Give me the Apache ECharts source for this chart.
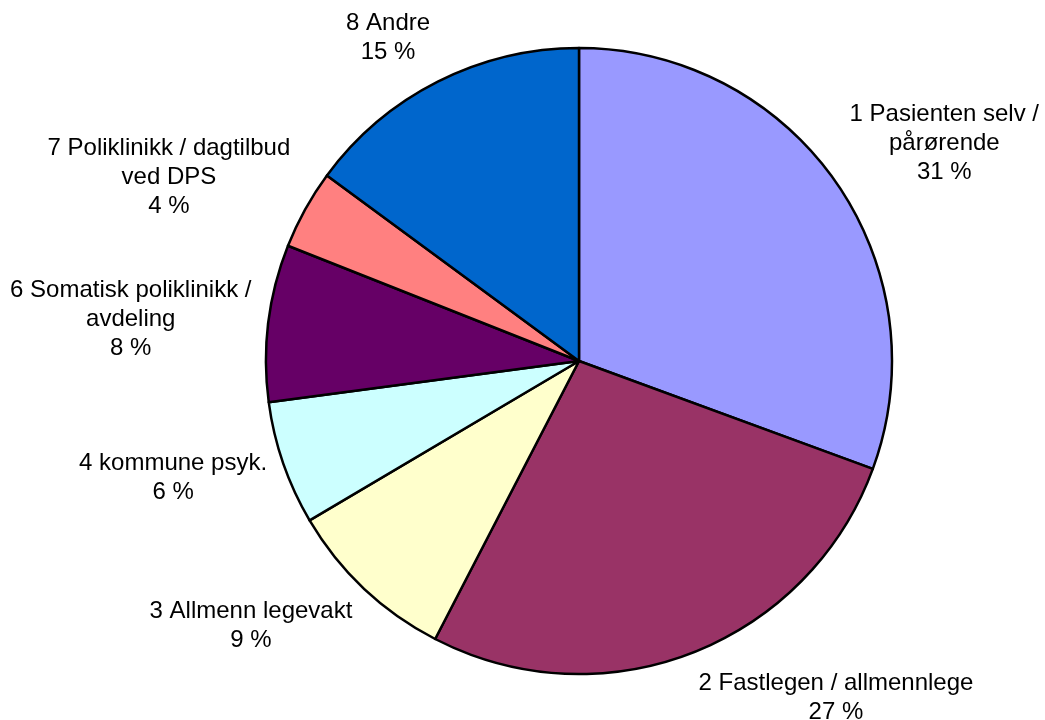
<!DOCTYPE html>
<html>
<head>
<meta charset="utf-8">
<script src="https://cdn.jsdelivr.net/npm/echarts@6/dist/echarts.min.js"></script>
<style>
  html, body { margin: 0; padding: 0; background: #fff; }
  #chart { width: 1045px; height: 720px; }
</style>
</head>
<body>
<div id="chart"></div>
<script>
// data (share of all, %)
const categories = [
  "1 Pasienten selv /\npårørende",
  "2 Fastlegen / allmennlege",
  "3 Allmenn legevakt",
  "4 kommune psyk.",
  "6 Somatisk poliklinikk /\navdeling",
  "7 Poliklinikk / dagtilbud\nved DPS",
  "8 Andre"
];
const values = [30.6, 27.0, 8.9, 6.4, 8.1, 4.1, 14.9];
const colors = ["#9999FF", "#993366", "#FFFFCC", "#CCFFFF", "#660066", "#FF8080", "#0066CC"];

// pie geometry
const CX = 579, CY = 361, R = 313, GAP = 17;

const total = values.reduce((a, b) => a + b, 0);
let cum = 0;
const midAngles = values.map(v => {
  const m = cum + v / 2;
  cum += v;
  return (m / total) * 2 * Math.PI;
});

function clamp(v) {
  return Math.max(-1, Math.min(1, v));
}

const chart = echarts.init(document.getElementById("chart"));

chart.setOption({
  animation: false,
  backgroundColor: "#fff",
  series: [
    {
      type: "pie",
      center: [CX, CY],
      radius: R,
      startAngle: 90,
      clockwise: true,
      avoidLabelOverlap: false,
      itemStyle: {
        borderColor: "#000",
        borderWidth: 2.5
      },
      label: {
        show: true,
        position: "inside",
        color: "#000",
        textBorderWidth: 0,
        fontFamily: "Liberation Sans, Arial, sans-serif",
        fontSize: 24,
        lineHeight: 29,
        align: "center",
        formatter: p => p.name + "\n" + Math.round(p.percent) + " %"
      },
      labelLine: { show: false },
      // put the label corner just outside the slice, like the original
      labelLayout: function (params) {
        const a = midAngles[params.dataIndex];
        const dx = Math.sin(a), dy = -Math.cos(a);
        const w = params.labelRect.width, h = params.labelRect.height;
        const px = CX + (R + GAP) * dx;
        const py = CY + (R + GAP) * dy;
        const sy = Math.sign(dy) * clamp(Math.max(0, Math.abs(dy) - 0.1) * 1.4);
        return {
          x: px + (w / 2) * clamp(dx * 3),
          y: py + (h / 2) * sy,
          align: "center",
          verticalAlign: "middle"
        };
      },
      emphasis: { disabled: true },
      data: categories.map((name, i) => ({
        name: name,
        value: values[i],
        itemStyle: { color: colors[i] }
      }))
    }
  ]
});
</script>
</body>
</html>
